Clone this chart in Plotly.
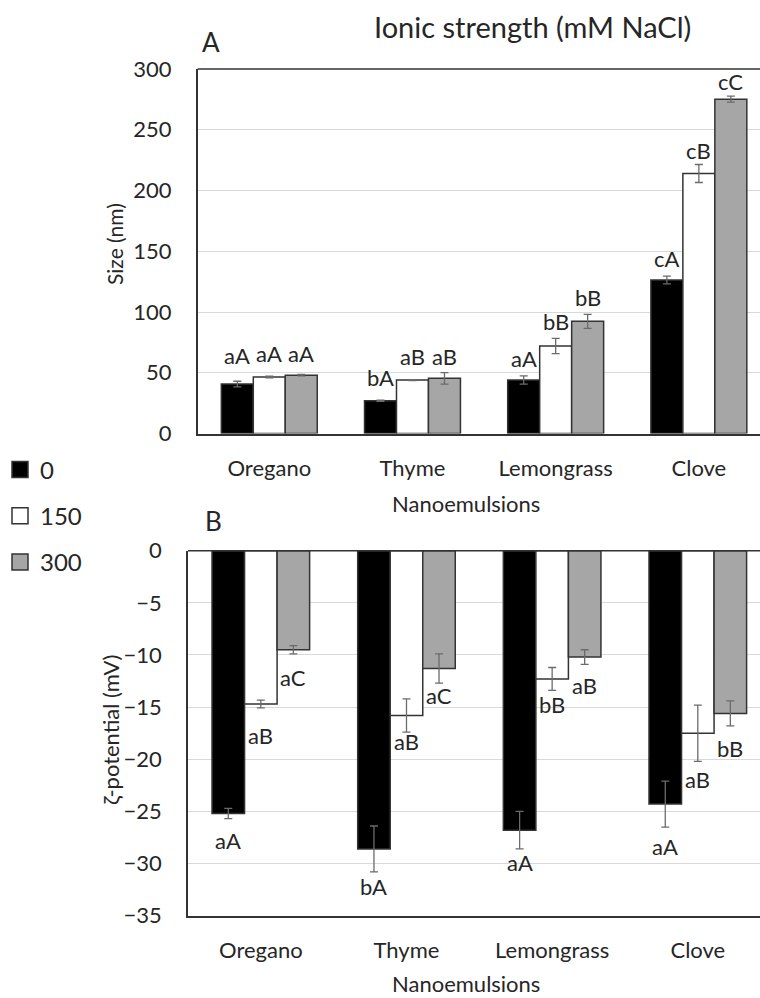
import plotly.graph_objects as go

categories = ["Oregano", "Thyme", "Lemongrass", "Clove"]
series_names = ["0", "150", "300"]

size_0 = [40.7, 27.0, 44.0, 126.3]
size_150 = [46.5, 44.0, 72.0, 214.0]
size_300 = [48.0, 45.4, 92.3, 275.2]
size_err_0 = [2.3, 0.5, 3.4, 3.2]
size_err_150 = [0.6, 0.4, 6.3, 7.4]
size_err_300 = [0.6, 4.7, 5.8, 2.5]
size_lab_0 = ["aA", "bA", "aA", "cA"]
size_lab_150 = ["aA", "aB", "bB", "cB"]
size_lab_300 = ["aA", "aB", "bB", "cC"]

zeta_0 = [-25.2, -28.6, -26.8, -24.3]
zeta_150 = [-14.7, -15.8, -12.3, -17.5]
zeta_300 = [-9.5, -11.3, -10.2, -15.6]
zeta_err_0 = [0.5, 2.2, 1.8, 2.2]
zeta_err_150 = [0.37, 1.6, 1.1, 2.7]
zeta_err_300 = [0.4, 1.4, 0.7, 1.2]
zeta_lab_0 = ["aA", "bA", "aA", "aA"]
zeta_lab_150 = ["aB", "aB", "bB", "aB"]
zeta_lab_300 = ["aC", "aC", "aB", "bB"]

size_ticks = [0, 50, 100, 150, 200, 250, 300]
zeta_ticks = [0, -5, -10, -15, -20, -25, -30, -35]

# styles
fills = ["#000000", "#ffffff", "#a6a6a6"]
outline = "#333333"
errcol = "#6b6b6b"
txt = "#262626"
FONT = "Lato"
BARGAP = 0.33
# label pixel offsets (style)
top_off = [[29, 23, 22, 22], [24, 24, 25, 23], [22, 22, 24, 18]]
bot_off = [[27, 38, 32, 42], [31, 26, 26, 46], [28, 27, 28, 35]]

W, H = 760, 998
top_dom_x = [197.7 / W, 1.0]
bot_dom_x = [188.0 / W, 1.0]
top_dom_y = [1 - 433.5 / H, 1 - 69.0 / H]
bot_dom_y = [1 - 915.7 / H, 1 - 550.7 / H]

fig = go.Figure()

sizes = [size_0, size_150, size_300]
size_errs = [size_err_0, size_err_150, size_err_300]
size_labs = [size_lab_0, size_lab_150, size_lab_300]
zetas = [zeta_0, zeta_150, zeta_300]
zeta_errs = [zeta_err_0, zeta_err_150, zeta_err_300]
zeta_labs = [zeta_lab_0, zeta_lab_150, zeta_lab_300]

for i, name in enumerate(series_names):
    fig.add_trace(go.Bar(
        x=categories, y=sizes[i], name=name, legendgroup=name,
        marker=dict(color=fills[i], line=dict(color=outline, width=1.5)),
        error_y=dict(type="data", array=size_errs[i], visible=True,
                     color=errcol, thickness=1.3, width=4),
        xaxis="x", yaxis="y", showlegend=False,
    ))
for i, name in enumerate(series_names):
    fig.add_trace(go.Bar(
        x=categories, y=zetas[i], name=name, legendgroup=name,
        marker=dict(color=fills[i], line=dict(color=outline, width=1.5)),
        error_y=dict(type="data", array=zeta_errs[i], visible=True,
                     color=errcol, thickness=1.3, width=4),
        xaxis="x2", yaxis="y2", showlegend=False,
    ))
# legend entries (larger square swatches)
for i, name in enumerate(series_names):
    fig.add_trace(go.Scatter(
        x=[None], y=[None], mode="markers", name=name, legendgroup=name,
        marker=dict(symbol="square", size=16, color=fills[i],
                    line=dict(color=outline, width=1.5)),
        xaxis="x", yaxis="y", showlegend=True, hoverinfo="skip",
    ))

bw = (1 - BARGAP) / 3
ann = []
for i in range(3):
    for k in range(4):
        xpos = k + (i - 1) * bw
        ann.append(dict(x=xpos, y=sizes[i][k], xref="x", yref="y",
                        xanchor="center", yanchor="middle",
                        text=size_labs[i][k], showarrow=False,
                        yshift=top_off[i][k], font=dict(family=FONT, size=22, color=txt)))
        ann.append(dict(x=xpos, y=zetas[i][k], xref="x2", yref="y2",
                        xanchor="center", yanchor="middle",
                        text=zeta_labs[i][k], showarrow=False,
                        yshift=-bot_off[i][k], font=dict(family=FONT, size=22, color=txt)))


def pann(px, py, text, size, angle=0):
    return dict(x=px / W, y=1 - py / H, xref="paper", yref="paper", text=text,
                xanchor="center", yanchor="middle", textangle=angle,
                showarrow=False, font=dict(family=FONT, size=size, color=txt))


ann += [
    pann(532, 26, "Ionic strength (mM NaCl)", 29),
    pann(211, 42, "A", 26),
    pann(213, 521, "B", 26),
    pann(466, 504, "Nanoemulsions", 22),
    pann(466, 983, "Nanoemulsions", 22),
    pann(114, 244, "Size (nm)", 21, -90),
    pann(110, 730, "ζ-potential (mV)", 22, -90),
]

shapes = [
    dict(type="line", xref="x domain", yref="y domain", x0=0, x1=1, y0=1, y1=1,
         line=dict(color=outline, width=1.5)),
    dict(type="line", xref="x2 domain", yref="y2 domain", x0=0, x1=1, y0=1, y1=1,
         line=dict(color=outline, width=1.5)),
]

xcommon = dict(type="category", range=[-0.5, 3.427], showline=True, linecolor=outline,
               linewidth=1.5, ticks="", showgrid=False, zeroline=False, automargin=False,
               tickfont=dict(family=FONT, size=22, color=txt), ticklabelstandoff=14,
               fixedrange=True)
ycommon = dict(showline=True, linecolor=outline, linewidth=1.5, ticks="", automargin=False,
               gridcolor="#d9d9d9", gridwidth=1.2, zeroline=False,
               tickfont=dict(family=FONT, size=22, color=txt), ticklabelstandoff=20)

fig.update_layout(
    width=W, height=H, margin=dict(l=0, r=0, t=0, b=0, pad=0, autoexpand=False),
    paper_bgcolor="white", plot_bgcolor="white",
    barmode="group", bargap=BARGAP, bargroupgap=0,
    xaxis=dict(domain=top_dom_x, anchor="y", categoryorder="array",
               categoryarray=categories, **xcommon),
    yaxis=dict(domain=top_dom_y, anchor="x", range=[0, 300], tickvals=size_ticks, **ycommon),
    xaxis2=dict(domain=bot_dom_x, anchor="y2", categoryorder="array",
                categoryarray=categories, **xcommon),
    yaxis2=dict(domain=bot_dom_y, anchor="x2", range=[-35, 0], tickvals=zeta_ticks, **ycommon),
    legend=dict(x=0.0, xanchor="left", y=1 - 516 / H, yanchor="middle",
                traceorder="grouped", tracegroupgap=12,
                font=dict(family=FONT, size=24, color=txt), bgcolor="rgba(0,0,0,0)"),
    annotations=ann, shapes=shapes,
    font=dict(family=FONT, color=txt),
)

fig.write_html("out.html")
